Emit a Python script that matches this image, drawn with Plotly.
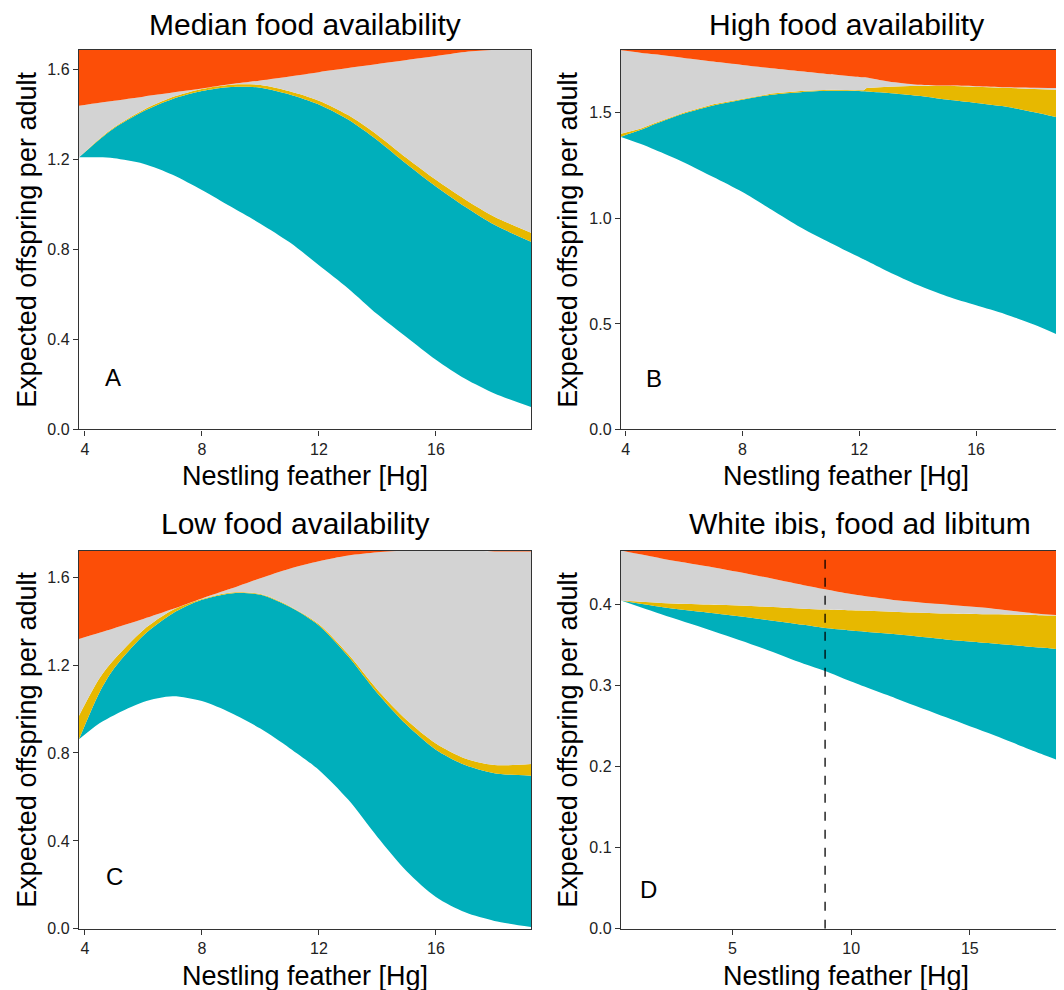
import plotly.graph_objects as go

# ---------------- data ----------------
panel_titles = ["Median food availability", "High food availability",
                "Low food availability", "White ibis, food ad libitum"]
panel_letters = ["A", "B", "C", "D"]
x_title = "Nestling feather [Hg]"
y_title = "Expected offspring per adult"

# Panel A (median food)
xA = [3.8, 4.5, 5, 6, 7, 8, 9, 10, 11, 12, 13, 14, 15, 16, 17, 18, 19.25]
A_white = [1.21, 1.21, 1.206, 1.182, 1.133, 1.065, 0.99, 0.915, 0.832, 0.73, 0.627, 0.512, 0.41, 0.31, 0.225, 0.16, 0.10]
A_teal = [1.21, 1.29, 1.34, 1.415, 1.47, 1.505, 1.523, 1.52, 1.49, 1.445, 1.378, 1.286, 1.18, 1.08, 0.99, 0.91, 0.835]
A_gold = [1.21, 1.293, 1.344, 1.421, 1.478, 1.514, 1.533, 1.532, 1.504, 1.462, 1.398, 1.31, 1.207, 1.11, 1.023, 0.946, 0.875]
A_gray = [1.44, 1.453, 1.462, 1.48, 1.498, 1.516, 1.536, 1.552, 1.57, 1.589, 1.607, 1.625, 1.643, 1.661, 1.679, 1.687, 1.687]
A_top = 1.687

# Panel B (high food)
xB = [3.82, 4.5, 5, 6, 7, 8, 9, 10, 11, 12.15, 12.25, 13, 14, 15, 16, 17, 18, 19.3]
B_white = [1.386, 1.353, 1.325, 1.265, 1.196, 1.125, 1.041, 0.957, 0.885, 0.806, 0.799, 0.747, 0.684, 0.631, 0.588, 0.546, 0.496, 0.418]
B_teal = [1.386, 1.418, 1.447, 1.497, 1.535, 1.562, 1.586, 1.598, 1.604, 1.602, 1.601, 1.594, 1.581, 1.563, 1.547, 1.530, 1.503, 1.463]
B_gold = [1.40, 1.425, 1.452, 1.502, 1.540, 1.567, 1.591, 1.603, 1.609, 1.607, 1.618, 1.624, 1.628, 1.628, 1.624, 1.618, 1.613, 1.606]
B_gray = [1.797, 1.785, 1.777, 1.760, 1.743, 1.727, 1.711, 1.697, 1.683, 1.668, 1.667, 1.648, 1.633, 1.629, 1.626, 1.621, 1.619, 1.617]
B_top = 1.797

# Panel C (low food)
xC = [3.8, 4.5, 5, 6, 7, 8, 9, 10, 11, 12, 13, 14, 15, 16, 17, 18, 19.25]
C_white = [0.862, 0.935, 0.972, 1.032, 1.058, 1.036, 0.982, 0.911, 0.822, 0.723, 0.588, 0.418, 0.262, 0.145, 0.075, 0.036, 0.008]
C_teal = [0.862, 1.075, 1.185, 1.335, 1.435, 1.497, 1.526, 1.52, 1.465, 1.38, 1.24, 1.072, 0.928, 0.815, 0.745, 0.708, 0.697]
C_gold = [0.97, 1.14, 1.225, 1.36, 1.45, 1.500, 1.53, 1.523, 1.468, 1.386, 1.25, 1.088, 0.95, 0.843, 0.775, 0.745, 0.75]
C_gray = [1.319, 1.347, 1.368, 1.41, 1.455, 1.503, 1.548, 1.595, 1.638, 1.672, 1.698, 1.713, 1.721, 1.721, 1.721, 1.717, 1.717]
C_top = 1.721

# Panel D (white ibis)
xD = [0.3, 2, 4, 6, 8, 8.9, 10, 12, 14, 16, 18, 19.35]
D_white = [0.405, 0.388, 0.369, 0.349, 0.327, 0.318, 0.305, 0.283, 0.261, 0.239, 0.216, 0.201]
D_teal = [0.405, 0.397, 0.390, 0.383, 0.375, 0.371, 0.368, 0.363, 0.357, 0.352, 0.347, 0.343]
D_gold = [0.405, 0.402, 0.400, 0.398, 0.395, 0.394, 0.393, 0.391, 0.389, 0.388, 0.387, 0.386]
D_gray = [0.4667, 0.457, 0.447, 0.436, 0.424, 0.419, 0.413, 0.405, 0.400, 0.395, 0.3885, 0.386]
D_top = 0.4667
ibis_marker_x = 8.9

A_xticks = [4, 8, 12, 16]
A_yticks = [0.0, 0.4, 0.8, 1.2, 1.6]
B_yticks = [0.0, 0.5, 1.0, 1.5]
D_xticks = [5, 10, 15]
D_yticks = [0.0, 0.1, 0.2, 0.3, 0.4]

# ---------------- styling / layout ----------------
PAGE_OFF = 8            # default body margin of the html page
K_V = 0.99              # observed vertical scale of the photographed page
W, H = 1064, 990 - PAGE_OFF
FONT = "Liberation Sans, Arial, Helvetica, sans-serif"
C_TEAL, C_GOLD, C_GRAY, C_ORANGE = "#00AFBB", "#E7B800", "#D3D3D3", "#FC4E07"
AX = "#333333"
RIGHT_EDGE = PAGE_OFF + W


def fx(px):
    return (px - PAGE_OFF) / W


def fy(py):
    return 1 - (py / K_V - PAGE_OFF) / H


PX_PER_X_AC = 29.2
PX_PER_X_D = 23.73

panels = [
    dict(x=xA, b=[A_white, A_teal, A_gold, A_gray], top=A_top, xr=[3.8, 19.25],
         xt=A_xticks, yt=A_yticks, dom_x=(79, 531), dom_y=(50, 429), full=True,
         shapes=["spline"] * 5),
    dict(x=xB, b=[B_white, B_teal, B_gold, B_gray], top=B_top,
         xr=[3.84, 3.84 + (RIGHT_EDGE - 621) / PX_PER_X_AC],
         xt=A_xticks, yt=B_yticks, dom_x=(621, RIGHT_EDGE), dom_y=(50, 429), full=False,
         shapes=["spline", "spline", "linear", "spline", "linear"]),
    dict(x=xC, b=[C_white, C_teal, C_gold, C_gray], top=C_top, xr=[3.8, 19.25],
         xt=A_xticks, yt=A_yticks, dom_x=(79, 531), dom_y=(550, 928), full=True,
         shapes=["spline"] * 5),
    dict(x=xD, b=[D_white, D_teal, D_gold, D_gray], top=D_top,
         xr=[0.3, 0.3 + (RIGHT_EDGE - 621) / PX_PER_X_D],
         xt=D_xticks, yt=D_yticks, dom_x=(621, RIGHT_EDGE), dom_y=(550, 928), full=False,
         shapes=["spline"] * 5),
]

fig = go.Figure()
layout_axes = {}
annotations = []

for i, p in enumerate(panels):
    n = i + 1
    xa = "x" if n == 1 else f"x{n}"
    ya = "y" if n == 1 else f"y{n}"
    fills = [None, C_TEAL, C_GOLD, C_GRAY, C_ORANGE]
    series = p["b"] + [[p["top"]] * len(p["x"])]
    for k, ys in enumerate(series):
        fig.add_trace(go.Scatter(
            x=p["x"], y=ys, xaxis=xa, yaxis=ya, mode="lines",
            line=dict(width=0, shape=p["shapes"][k], smoothing=0.8),
            fill="none" if k == 0 else "tonexty",
            fillcolor=fills[k], showlegend=False, hoverinfo="skip"))

    axis_common = dict(showgrid=False, zeroline=False, showline=True, linecolor=AX,
                       linewidth=1.4, ticks="outside", ticklen=5, tickwidth=1.2,
                       tickcolor=AX, tickfont=dict(family=FONT, size=16, color="#222222"))
    layout_axes["xaxis" if n == 1 else f"xaxis{n}"] = dict(
        axis_common, domain=[fx(p["dom_x"][0]), fx(p["dom_x"][1])],
        range=p["xr"], tickvals=p["xt"], anchor=ya, mirror=True)
    layout_axes["yaxis" if n == 1 else f"yaxis{n}"] = dict(
        axis_common, domain=[fy(p["dom_y"][1]), fy(p["dom_y"][0])],
        range=[0, p["top"]], tickvals=p["yt"], tickformat=".1f", anchor=xa,
        mirror=p["full"])

    title_x = [305, 846, 295, 860][i]
    title_y = [24, 24, 523, 523][i]
    annotations.append(dict(text=panel_titles[i], x=fx(title_x), y=fy(title_y), xref="paper",
                            yref="paper", showarrow=False, xanchor="center", yanchor="middle",
                            font=dict(family=FONT, size=30, color="black")))
    xt_x = 305 if p["full"] else 846
    xt_y = p["dom_y"][1] + 47
    annotations.append(dict(text=x_title, x=fx(xt_x), y=fy(xt_y), xref="paper", yref="paper",
                            showarrow=False, xanchor="center", yanchor="middle",
                            font=dict(family=FONT, size=27, color="black")))
    yt_x = 27 if p["full"] else 568
    yt_y = (p["dom_y"][0] + p["dom_y"][1]) / 2
    annotations.append(dict(text=y_title, x=fx(yt_x), y=fy(yt_y), xref="paper", yref="paper",
                            showarrow=False, xanchor="center", yanchor="middle", textangle=-90,
                            font=dict(family=FONT, size=27, color="black")))
    lx, ly = [(113, 377), (654, 378), (114, 876), (649, 889)][i]
    annotations.append(dict(text=panel_letters[i], x=fx(lx), y=fy(ly), xref="paper", yref="paper",
                            showarrow=False, xanchor="center", yanchor="middle",
                            font=dict(family=FONT, size=24, color="black")))

fig.add_shape(type="line", xref="x4", yref="y4", x0=ibis_marker_x, x1=ibis_marker_x,
              y0=0, y1=D_top, line=dict(color="black", width=1.3, dash="dash"))

fig.update_layout(width=W, height=H, margin=dict(l=0, r=0, t=0, b=0),
                  paper_bgcolor="white", plot_bgcolor="white",
                  annotations=annotations, **layout_axes)

fig.write_html("out.html")
